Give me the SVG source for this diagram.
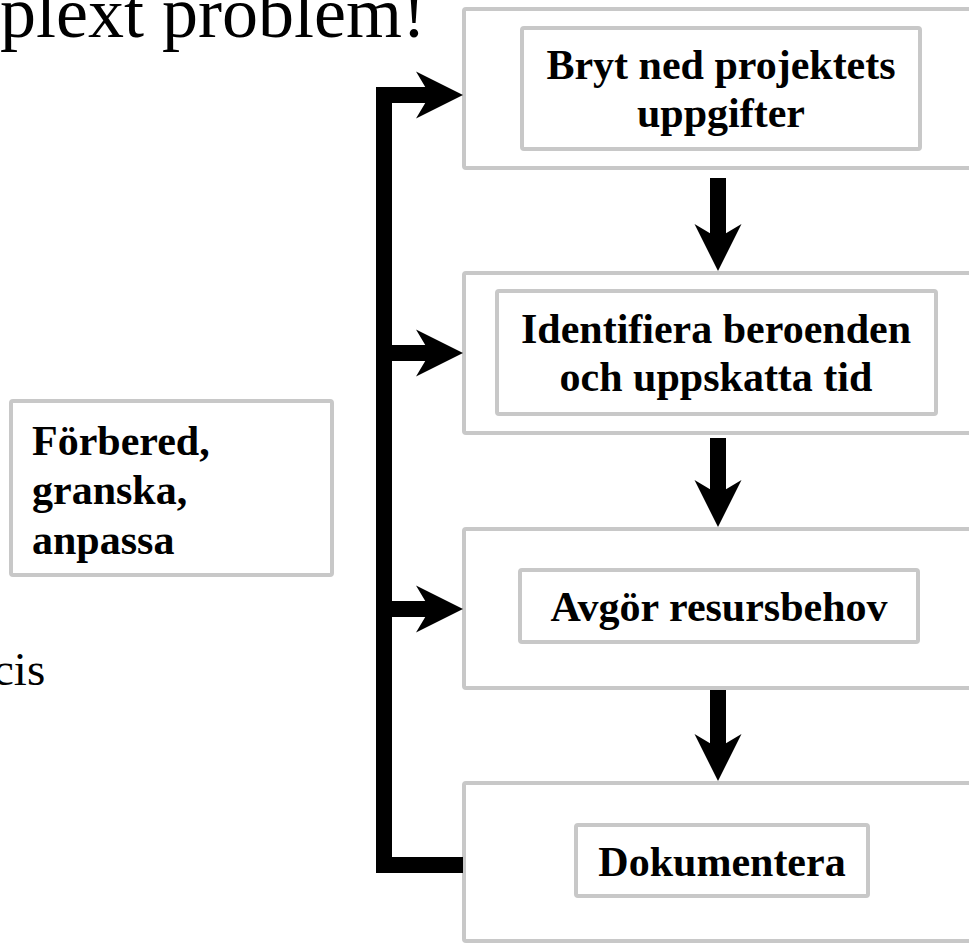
<svg xmlns="http://www.w3.org/2000/svg" xmlns:xlink="http://www.w3.org/1999/xlink" width="969" height="943" viewBox="0 0 969 943">
  <style>
    .box { fill: #ffffff; stroke: #c8c8c8; stroke-width: 4; }
    .lbl { font-family: "Liberation Serif", "Times New Roman", serif; font-weight: bold; font-size: 42px; fill: #000; }
    .ctr { text-anchor: middle; }
    .plain { font-family: "Liberation Serif", "Times New Roman", serif; fill: #000; }
    .bar { fill: none; stroke: #000; stroke-width: 16; stroke-linejoin: miter; stroke-linecap: butt; }
  </style>
  <defs>
    <!-- arrowhead pointing along +x, tip at origin -->
    <path id="head" d="M0 0 L-47 -23.5 L-33 0 L-47 23.5 Z" fill="#000"/>
  </defs>

  <rect width="969" height="943" fill="#ffffff"/>

  <!-- slide text partially visible -->
  <text class="plain" x="0" y="37" font-size="72">plext problem!</text>
  <text class="plain" x="-7" y="685" font-size="47">cis</text>

  <g id="node-forbered">
    <rect class="box" x="11" y="401" width="321" height="174" rx="2"/>
    <text class="lbl" x="32" y="455">Förbered,</text>
    <text class="lbl" x="32" y="504">granska,</text>
    <text class="lbl" x="32" y="554">anpassa</text>
  </g>

  <g id="node-bryt">
    <rect class="box" x="464" y="9" width="520" height="159" rx="2"/>
    <rect class="box" x="522" y="28" width="398" height="121" rx="2"/>
    <text class="lbl ctr" x="721" y="79">Bryt ned projektets</text>
    <text class="lbl ctr" x="721" y="127">uppgifter</text>
  </g>

  <g id="node-identifiera">
    <rect class="box" x="464" y="273" width="520" height="160" rx="2"/>
    <rect class="box" x="497" y="291" width="439" height="123" rx="2"/>
    <text class="lbl ctr" x="716" y="343">Identifiera beroenden</text>
    <text class="lbl ctr" x="716" y="391">och uppskatta tid</text>
  </g>

  <g id="node-avgor">
    <rect class="box" x="464" y="529" width="520" height="159" rx="2"/>
    <rect class="box" x="520" y="570" width="398" height="72" rx="2"/>
    <text class="lbl ctr" x="719" y="621">Avgör resursbehov</text>
  </g>

  <g id="node-dokumentera">
    <rect class="box" x="464" y="783" width="520" height="158" rx="2"/>
    <rect class="box" x="576" y="825" width="292" height="71" rx="2"/>
    <text class="lbl ctr" x="722" y="876">Dokumentera</text>
  </g>

  <g id="connectors">
    <!-- feedback trunk on the left -->
    <path class="bar" d="M432 95 H384 V865 H463"/>
    <path class="bar" d="M392 353 H432"/>
    <path class="bar" d="M392 609 H432"/>
    <use xlink:href="#head" transform="translate(463 95)"/>
    <use xlink:href="#head" transform="translate(463 353)"/>
    <use xlink:href="#head" transform="translate(463 609)"/>

    <!-- downward flow between steps -->
    <path class="bar" d="M718 178 V240"/>
    <path class="bar" d="M718 438 V495"/>
    <path class="bar" d="M718 690 V750"/>
    <use xlink:href="#head" transform="translate(718 271) rotate(90)"/>
    <use xlink:href="#head" transform="translate(718 527) rotate(90)"/>
    <use xlink:href="#head" transform="translate(718 781) rotate(90)"/>
  </g>
</svg>
